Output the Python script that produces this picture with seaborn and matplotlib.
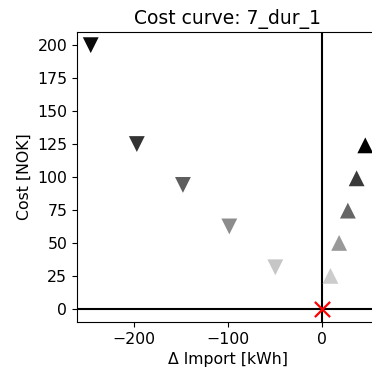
import matplotlib
matplotlib.use("Agg")
import matplotlib.pyplot as plt
import seaborn as sns
import pandas as pd

# Data
down_x = [-245.5, -196.5, -147.5, -98.2, -49.3]
down_y = [200, 125, 94, 62.5, 31.5]
down_colors = ["#0a0a0a", "#333333", "#5e5e5e", "#8c8c8c", "#c6c6c6"]

up_x = [9.3, 18.5, 27.8, 37.1, 46.3]
up_y = [25, 50, 74.5, 99, 124]
up_colors = ["#cccccc", "#999999", "#666666", "#3a3a3a", "#000000"]

origin_x = [0]
origin_y = [0]

title = "Cost curve: 7_dur_1"
xlabel = "\u0394 Import [kWh]"
ylabel = "Cost [NOK]"

fig = plt.figure(figsize=(3.72, 3.73), dpi=100)
ax = fig.add_axes([77/372, 1 - 322/373, (379 - 77)/372, (322 - 32)/373])

df_down = pd.DataFrame({"x": down_x, "y": down_y, "k": range(len(down_x))})
df_up = pd.DataFrame({"x": up_x, "y": up_y, "k": range(len(up_x))})

ax.axhline(0, color="black", lw=1.5, zorder=1)
ax.axvline(0, color="black", lw=1.5, zorder=1)

sns.scatterplot(data=df_down, x="x", y="y", hue="k", palette=down_colors,
                marker="v", s=130, linewidth=0, legend=False, ax=ax, zorder=3)
sns.scatterplot(data=df_up, x="x", y="y", hue="k", palette=up_colors,
                marker="^", s=130, linewidth=0, legend=False, ax=ax, zorder=3)
ax.scatter(origin_x, origin_y, marker="x", color="red", s=120, linewidths=1.6, zorder=4)

ax.set_yticks([0, 25, 50, 75, 100, 125, 150, 175, 200])
ax.set_xticks([-200, -100, 0])
ax.tick_params(labelsize=11.3)
ax.set_title(title, fontsize=13.5)
ax.set_xlabel(xlabel, fontsize=11.3)
ax.set_ylabel(ylabel, fontsize=11.3)

fig.savefig("out.png", dpi=100)
